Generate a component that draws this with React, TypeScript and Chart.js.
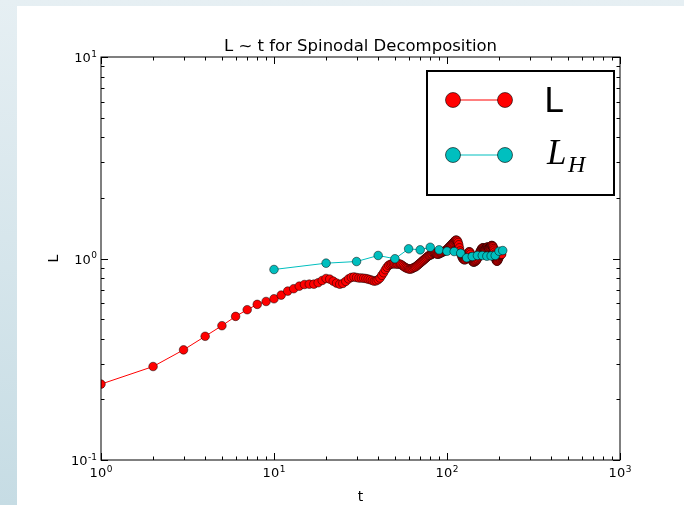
import React, { useEffect, useRef } from "react";
import { Chart, registerables } from "chart.js";
Chart.register(...registerables);

const W = 684;
const H = 505;

const titleText = "L ~ t for Spinodal Decomposition";
const xLabel = "t";
const yLabel = "L";

const xMajorTicks = [1, 10, 100, 1000];
const xTickExps = ["0", "1", "2", "3"];
const yMajorTicks = [0.1, 1, 10];
const yTickExps = ["-1", "0", "1"];

const redT = [
  1, 2, 3, 4, 5, 6, 7, 8, 9, 10, 11, 12, 13, 14, 15, 16, 17, 18, 19, 20,
  21, 22, 23, 24, 25, 26, 27, 28, 29, 30, 31, 32, 33, 34, 35, 36, 37, 38, 39, 40,
  41, 42, 43, 44, 45, 46, 47, 48, 49, 50, 51, 52, 53, 54, 55, 56, 57, 58, 59, 60,
  61, 62, 63, 64, 65, 66, 67, 68, 69, 70, 71, 72, 73, 74, 75, 76, 77, 78, 79, 80,
  81, 82, 83, 84, 85, 86, 87, 88, 89, 90, 91, 92, 93, 94, 95, 96, 97, 98, 99, 100,
  101, 102, 103, 104, 105, 106, 107, 108, 109, 110, 111, 112, 113, 114, 115, 116, 117, 118, 119, 120,
  121, 122, 123, 124, 125, 126, 127, 128, 129, 130, 131, 132, 133, 134, 135, 136, 137, 138, 139, 140,
  141, 142, 143, 144, 145, 146, 147, 148, 149, 150, 151, 152, 153, 154, 155, 156, 157, 158, 159, 160,
  161, 162, 163, 164, 165, 166, 167, 168, 169, 170, 171, 172, 173, 174, 175, 176, 177, 178, 179, 180,
  181, 182, 183, 184, 185, 186, 187, 188, 189, 190, 191, 192, 193, 194, 195, 196, 197, 198, 199, 200,
  201, 202, 203, 204, 205, 206, 207,
];
const redL = [
  0.238, 0.291, 0.352, 0.411, 0.464, 0.516, 0.557, 0.592, 0.612, 0.631,
  0.658, 0.689, 0.708, 0.729, 0.743, 0.746, 0.746, 0.758, 0.778, 0.796,
  0.79, 0.772, 0.755, 0.745, 0.752, 0.77, 0.792, 0.806, 0.81, 0.805,
  0.8, 0.8, 0.798, 0.795, 0.79, 0.785, 0.778, 0.772, 0.775, 0.785,
  0.8, 0.825, 0.85, 0.88, 0.905, 0.925, 0.935, 0.94, 0.942, 0.94,
  0.94, 0.938, 0.94, 0.935, 0.925, 0.915, 0.905, 0.898, 0.892, 0.888,
  0.886, 0.888, 0.892, 0.9, 0.905, 0.91, 0.92, 0.93, 0.94, 0.95,
  0.96, 0.97, 0.98, 0.99, 1.0, 1.01, 1.02, 1.03, 1.035, 1.04,
  1.045, 1.05, 1.06, 1.065, 1.065, 1.06, 1.055, 1.05, 1.05, 1.055,
  1.06, 1.065, 1.07, 1.075, 1.08, 1.085, 1.09, 1.095, 1.1, 1.11,
  1.12, 1.13, 1.14, 1.15, 1.16, 1.17, 1.18, 1.19, 1.2, 1.21,
  1.22, 1.23, 1.235, 1.23, 1.22, 1.2, 1.17, 1.13, 1.09, 1.06,
  1.04, 1.02, 1.005, 0.995, 0.99, 0.985, 0.985, 0.99, 1.0, 1.015,
  1.035, 1.055, 1.07, 1.08, 1.08, 1.07, 1.05, 1.02, 0.995, 0.975,
  0.965, 0.96, 0.96, 0.962, 0.965, 0.97, 0.975, 0.98, 0.99, 1.0,
  1.015, 1.03, 1.045, 1.06, 1.075, 1.09, 1.1, 1.11, 1.12, 1.125,
  1.13, 1.13, 1.125, 1.12, 1.115, 1.11, 1.115, 1.12, 1.13, 1.135,
  1.14, 1.14, 1.135, 1.13, 1.13, 1.135, 1.14, 1.145, 1.15, 1.155,
  1.16, 1.16, 1.155, 1.15, 1.14, 1.12, 1.1, 1.075, 1.05, 1.025,
  1.0, 0.985, 0.975, 0.97, 0.97, 0.975, 0.985, 0.995, 1.005, 1.015,
  1.025, 1.035, 1.04, 1.045, 1.05, 1.05, 1.05,
];

const cyanT = [10, 20, 30, 40, 50, 60, 70, 80, 90, 100, 110, 120, 130, 140, 150, 160, 170, 180, 190, 200, 210];
const cyanL = [
  0.882, 0.948, 0.966, 1.035, 0.997, 1.117, 1.104, 1.137, 1.104, 1.087,
  1.083, 1.062, 1.008, 1.023, 1.035, 1.035, 1.027, 1.03, 1.035, 1.087, 1.095,
];

const RED = "#ff0000";
const CYAN = "#00bfbf";

function drawPow(ctx: CanvasRenderingContext2D, exp: string, x: number, y: number, align: "center" | "right") {
  const baseFont = "13px 'DejaVu Sans'";
  const expFont = "9px 'DejaVu Sans'";
  ctx.font = baseFont;
  const bw = ctx.measureText("10").width;
  ctx.font = expFont;
  const ew = ctx.measureText(exp).width;
  const total = bw + ew + 0.5;
  const start = align === "center" ? x - total / 2 : x - total;
  ctx.textAlign = "left";
  ctx.textBaseline = "alphabetic";
  ctx.font = baseFont;
  ctx.fillText("10", start, y);
  ctx.font = expFont;
  ctx.fillText(exp, start + bw + 0.5, y - 5.5);
}

const framePlugin = {
  id: "mplFrame",
  afterDatasetsDraw(chart: any) {
    const { ctx, chartArea: a, scales } = chart;
    const xs = scales.x;
    const ys = scales.y;
    ctx.save();
    ctx.strokeStyle = "#000";
    ctx.lineWidth = 1;
    const L = Math.round(a.left);
    const R = Math.round(a.right);
    const T = Math.round(a.top);
    const B = Math.round(a.bottom);
    ctx.beginPath();
    for (let d = 1; d < 1000; d *= 10) {
      for (let k = 1; k <= 10; k++) {
        const v = d * k;
        if (v > 1000) continue;
        const px = Math.round(xs.getPixelForValue(v)) + 0.5;
        const len = k === 1 || k === 10 ? 7 : 3.5;
        ctx.moveTo(px, B);
        ctx.lineTo(px, B - len);
        ctx.moveTo(px, T);
        ctx.lineTo(px, T + len);
      }
    }
    for (let d = 0.1; d < 10; d *= 10) {
      for (let k = 1; k <= 10; k++) {
        const v = d * k;
        const py = Math.round(ys.getPixelForValue(v)) + 0.5;
        const len = k === 1 || k === 10 ? 7 : 3.5;
        ctx.moveTo(L, py);
        ctx.lineTo(L + len, py);
        ctx.moveTo(R, py);
        ctx.lineTo(R - len, py);
      }
    }
    ctx.stroke();
    ctx.strokeRect(L, T, R - L, B - T);

    ctx.fillStyle = "#000";
    xMajorTicks.forEach((v, i) => {
      drawPow(ctx, xTickExps[i], xs.getPixelForValue(v), B + 17, "center");
    });
    yMajorTicks.forEach((v, i) => {
      drawPow(ctx, yTickExps[i], L - 4, ys.getPixelForValue(v) + 5, "right");
    });

    ctx.font = "16.5px 'DejaVu Sans'";
    ctx.textAlign = "center";
    ctx.textBaseline = "alphabetic";
    ctx.fillText(titleText, (L + R) / 2, T - 6);
    ctx.font = "14px 'DejaVu Sans'";
    ctx.fillText(xLabel, (L + R) / 2, B + 41);
    ctx.save();
    ctx.translate(L - 43, (T + B) / 2);
    ctx.rotate(-Math.PI / 2);
    ctx.fillText(yLabel, 0, 0);
    ctx.restore();

    // legend
    const bx = R - 193;
    const by = T + 14;
    const bw = 187;
    const bh = 124;
    ctx.fillStyle = "#fff";
    ctx.fillRect(bx, by, bw, bh);
    ctx.lineWidth = 2;
    ctx.strokeStyle = "#000";
    ctx.strokeRect(bx, by, bw, bh);
    const entries = [
      { c: RED, y: by + 29 },
      { c: CYAN, y: by + 84 },
    ];
    entries.forEach((e) => {
      ctx.strokeStyle = e.c;
      ctx.lineWidth = 1;
      ctx.beginPath();
      ctx.moveTo(bx + 26, e.y);
      ctx.lineTo(bx + 78, e.y);
      ctx.stroke();
      [bx + 26, bx + 78].forEach((mx) => {
        ctx.beginPath();
        ctx.arc(mx, e.y, 7.5, 0, Math.PI * 2);
        ctx.fillStyle = e.c;
        ctx.fill();
        ctx.lineWidth = 0.6;
        ctx.strokeStyle = "#000";
        ctx.stroke();
      });
    });
    ctx.fillStyle = "#000";
    ctx.textAlign = "left";
    ctx.font = "34px 'DejaVu Sans'";
    ctx.fillText("L", bx + 117, by + 41);
    ctx.font = "italic 35px 'Liberation Serif'";
    ctx.fillText("L", bx + 120, by + 93);
    ctx.font = "italic 24px 'Liberation Serif'";
    ctx.fillText("H", bx + 141, by + 101);
    ctx.restore();
  },
};

export default function App() {
  const ref = useRef<HTMLCanvasElement>(null);
  useEffect(() => {
    document.body.style.margin = "0";
    const chart = new Chart(ref.current!, {
      type: "line",
      data: {
        datasets: [
          {
            label: "L_H",
            data: cyanT.map((t, i) => ({ x: t, y: cyanL[i] })),
            borderColor: CYAN,
            backgroundColor: CYAN,
            borderWidth: 1,
            pointRadius: 4.3,
            pointBackgroundColor: CYAN,
            pointBorderColor: "#000",
            pointBorderWidth: 0.5,
            tension: 0,
          },
          {
            label: "L",
            data: redT.map((t, i) => ({ x: t, y: redL[i] })),
            borderColor: RED,
            backgroundColor: RED,
            borderWidth: 1,
            pointRadius: 4.3,
            pointBackgroundColor: RED,
            pointBorderColor: "#000",
            pointBorderWidth: 0.5,
            tension: 0,
          },
        ],
      },
      options: {
        responsive: false,
        animation: false,
        layout: { padding: { left: 101, right: 64, top: 57, bottom: 45 } },
        plugins: {
          legend: { display: false },
          tooltip: { enabled: false },
          title: { display: false },
        },
        scales: {
          x: { type: "logarithmic", min: 1, max: 1000, display: false },
          y: { type: "logarithmic", min: 0.1, max: 10, display: false },
        },
      },
      plugins: [framePlugin],
    } as any);
    return () => chart.destroy();
  }, []);
  return (
    <div
      style={{
        position: "fixed",
        left: 0,
        top: 0,
        width: W,
        height: H,
        overflow: "hidden",
        background: "linear-gradient(#e6eff3, #c6dce4)",
      }}
    >
      <div style={{ position: "absolute", left: 17, top: 6, right: 0, bottom: 0, background: "#fff" }} />
      <canvas ref={ref} width={W} height={H} style={{ position: "absolute", left: 0, top: 0, width: W, height: H }} />
    </div>
  );
}
